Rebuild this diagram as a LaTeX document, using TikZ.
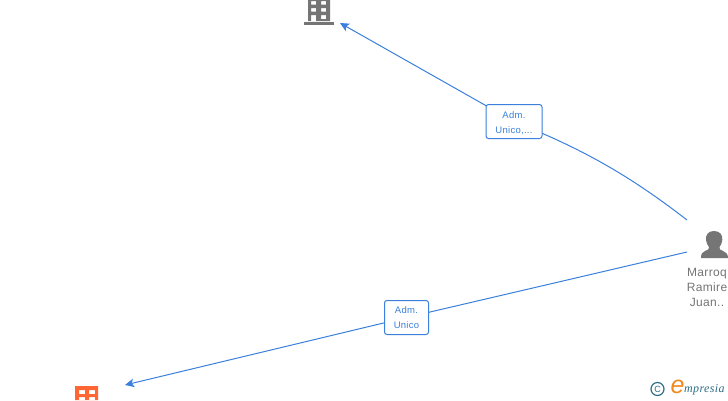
\documentclass[tikz,border=0pt]{standalone}
\usepackage{fontspec}
\setmainfont{Liberation Sans}
\newfontfamily\spacedfont[LetterSpace=3]{Liberation Sans}
\newfontfamily\logofont[LetterSpace=3]{Liberation Serif}
\definecolor{linkblue}{HTML}{3A80DC}
\definecolor{icongray}{HTML}{757575}
\definecolor{iconorange}{HTML}{FF6633}
\definecolor{tealc}{HTML}{2F6F86}
\definecolor{orangec}{HTML}{F08A1D}
\usetikzlibrary{arrows.meta}
\tikzset{
  linkline/.style={draw=linkblue,line width=1pt},
  arrowline/.style={linkline,-{Stealth[length=9pt,width=8.5pt,inset=2pt]}},
  linklabel/.style={draw=linkblue,line width=1pt,rounded corners=2.5pt,fill=white,text=linkblue,
    font=\spacedfont\fontsize{9.5}{15}\selectfont,align=center,inner sep=0pt},
  personlabel/.style={text=icongray,font=\spacedfont\fontsize{12}{15}\selectfont,align=center,inner sep=0pt}
}
\begin{document}
\begin{tikzpicture}[x=1pt,y=-1pt]
\useasboundingbox (0,0) rectangle (728,400);
\clip (0,0) rectangle (728,400);
\fill[white] (0,0) rectangle (728,400);
% anchors
\coordinate (bldg) at (340,23);
\coordinate (org) at (125,385);
\coordinate (pa) at (687,220);
\coordinate (pb) at (687,252);
% labels
\coordinate (l1c) at (514,121.5);
\coordinate (l2c) at (406.5,317.5);
% connectors
\draw[arrowline] (pa) .. controls (630,176) and (585,150) .. (l1c) -- (bldg);
\draw[arrowline] (pb) -- (l2c) -- (org);
\node[linklabel,minimum width=56pt,minimum height=34pt] (l1) at (l1c) {\rule{0pt}{10.5pt}Adm.\\Unico,...};
\node[linklabel,minimum width=44pt,minimum height=34pt] (l2) at (l2c) {Adm.\\Unico};
% grey building
\fill[icongray,even odd rule] (308,0) rectangle (330,21)
  (311,1) rectangle (316,4.5) (321,1) rectangle (326,4.5)
  (311,8) rectangle (316,11.5) (321,8) rectangle (326,11.5)
  (311,15) rectangle (316,21) (321,15) rectangle (326,19);
\fill[icongray] (304,21.5) rectangle (334,24.5);
% orange building
\fill[iconorange,even odd rule] (75,386) rectangle (98,400)
  (79,390) rectangle (85,394) (89,390) rectangle (95,394)
  (79,397) rectangle (85,400) (89,397) rectangle (95,400);
% person
\fill[icongray] (714,231) .. controls (708,231) and (705.5,235) .. (706,240)
  .. controls (706.3,243) and (707.5,245) .. (709,247)
  .. controls (709.5,249) and (708,250) .. (705,251)
  .. controls (702,252) and (701,254) .. (701,258) -- (728,258)
  .. controls (728,254) and (726,252) .. (723,251)
  .. controls (720,250) and (719,249) .. (719.5,247)
  .. controls (721,245) and (722,243) .. (722.3,240)
  .. controls (722.8,235) and (720,231) .. (714,231) -- cycle;
\node[personlabel] (person) at (707,287) {Marroq\\Ramire\\Juan..};
% logo
\draw[tealc,line width=1.2pt] (657.5,389) circle (6.5pt);
\node[text=tealc,font=\fontsize{9}{10}\selectfont,inner sep=0pt] (copy) at (657.5,389) {C};
\node[text=orangec,font=\fontsize{25}{26}\selectfont\itshape,inner sep=0pt] (elogo) at (677.5,386.5) {e};
\node[text=tealc,font=\logofont\fontsize{12}{13}\selectfont\itshape,inner sep=0pt,anchor=west] (wordlogo) at (684,390) {mpresia};
\end{tikzpicture}
\end{document}
